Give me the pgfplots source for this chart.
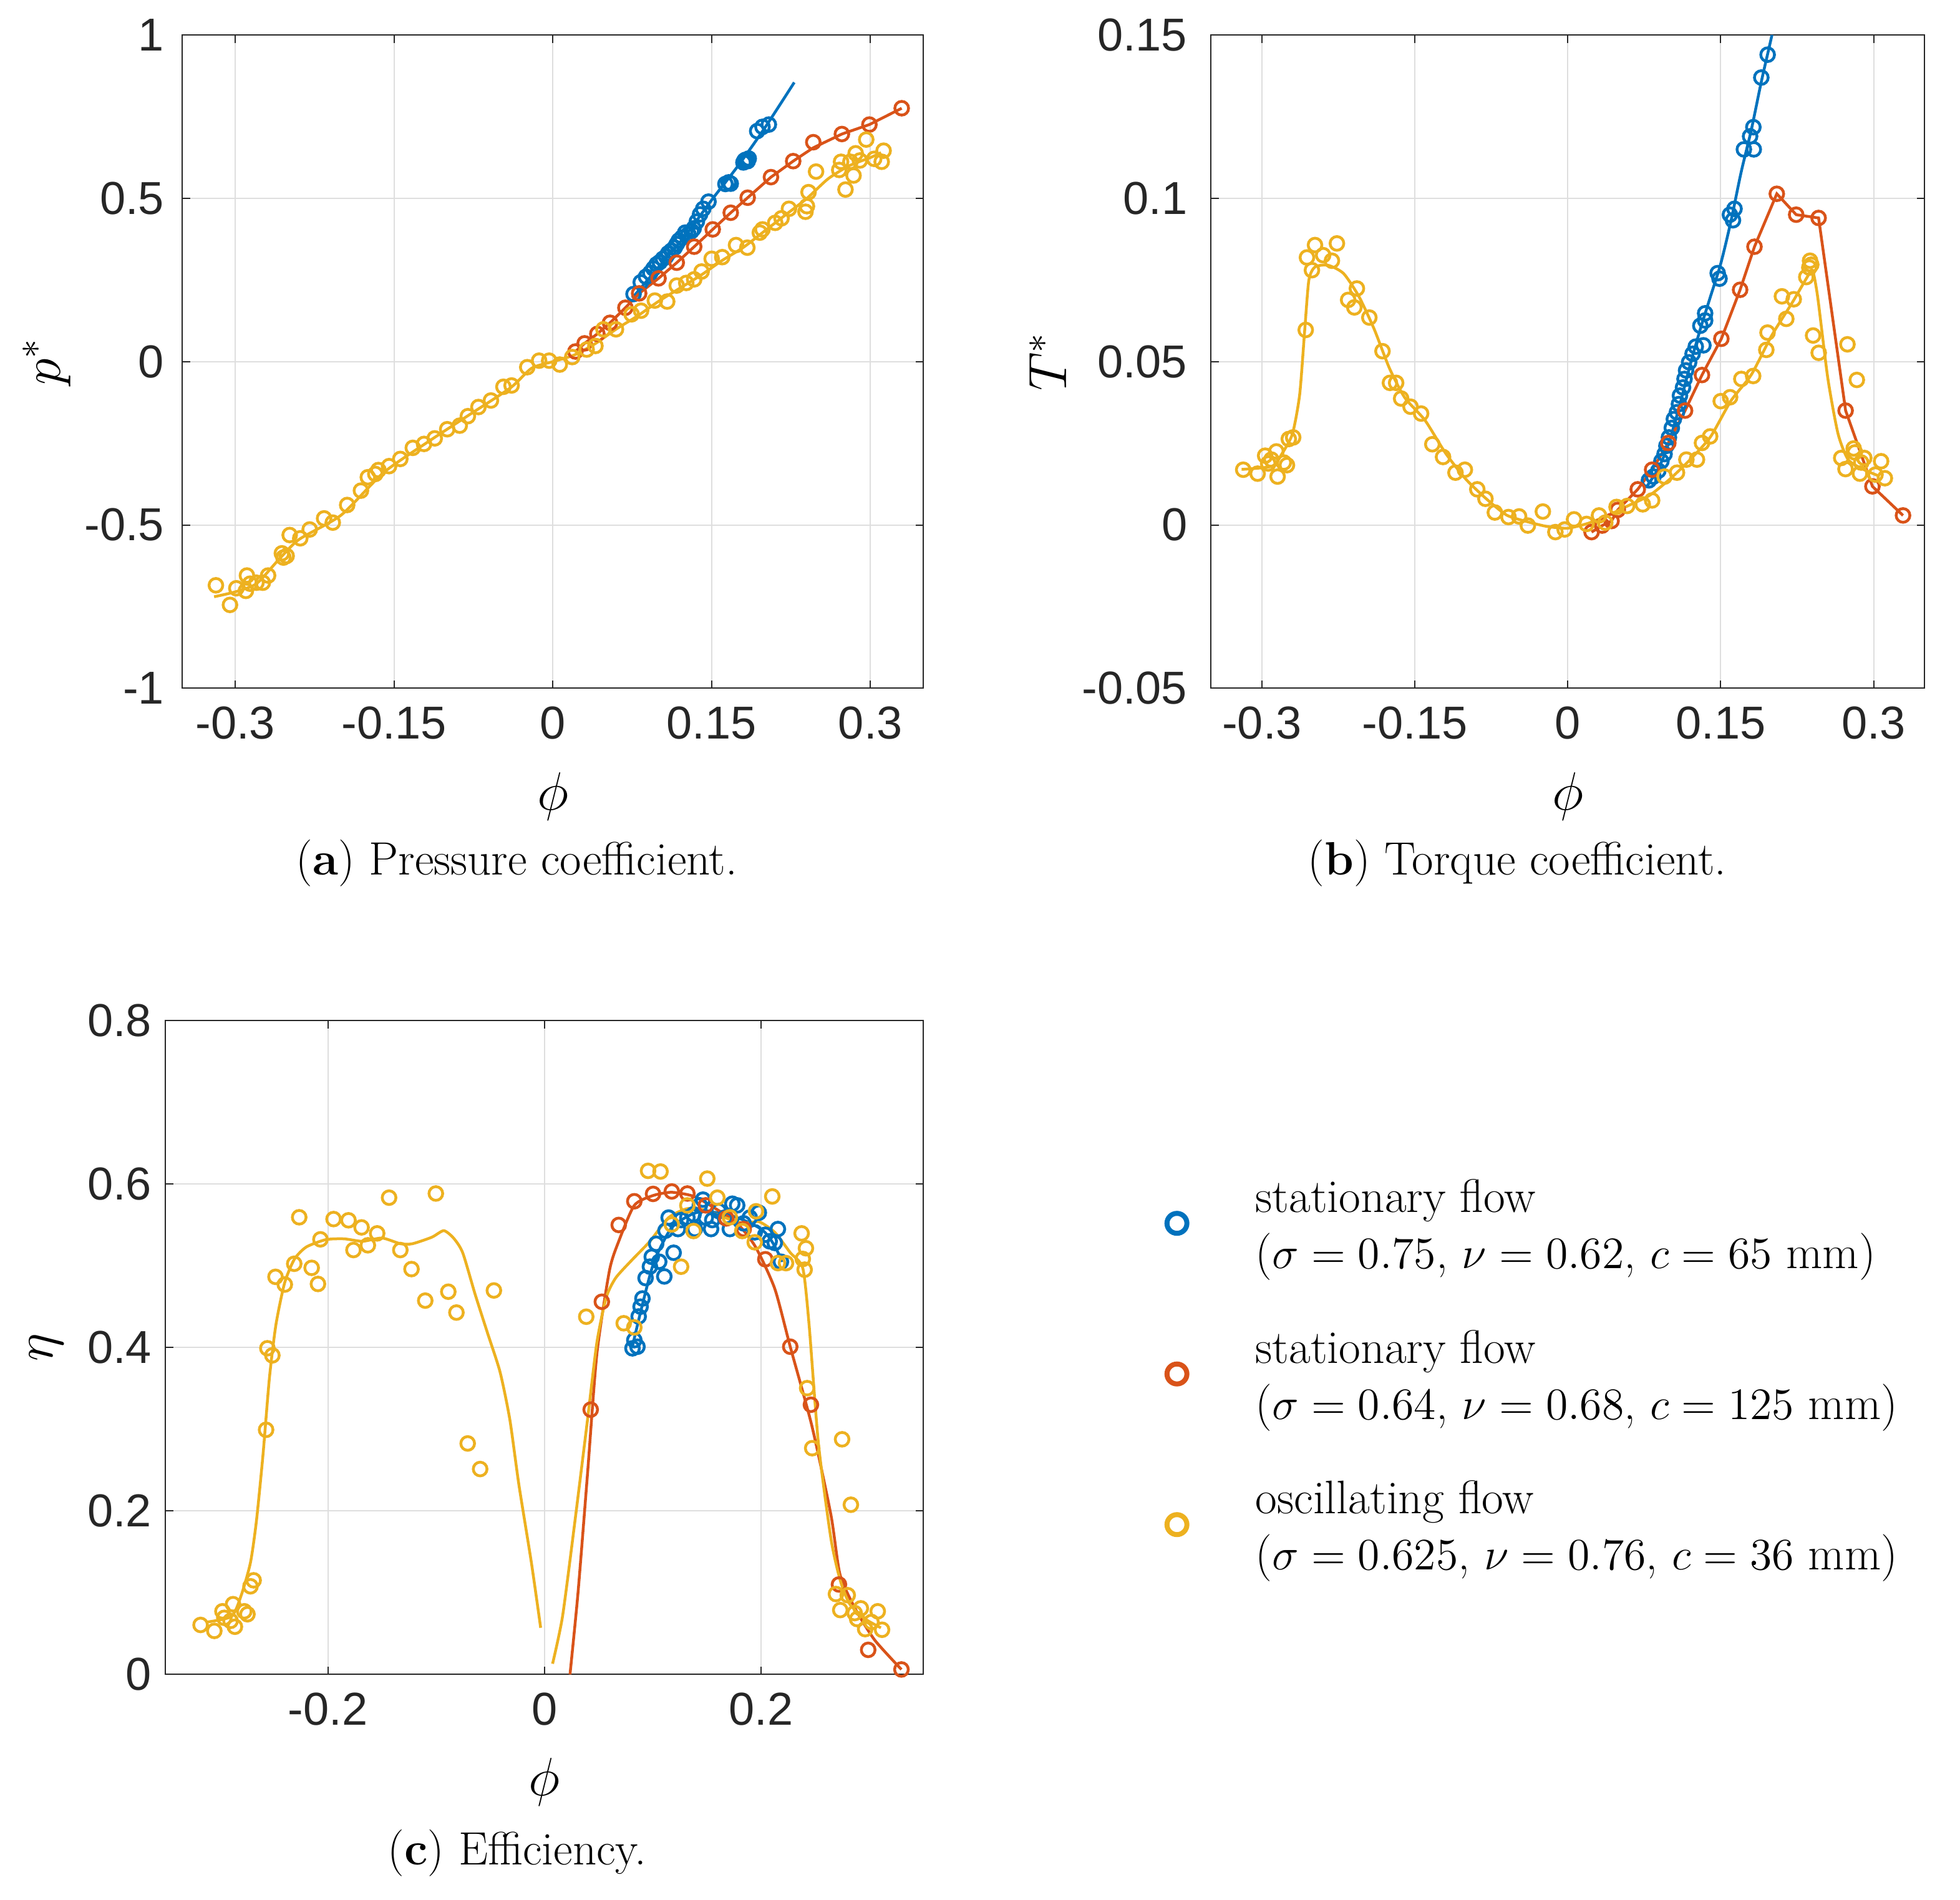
\documentclass[border=0pt]{standalone}
\usepackage{fontspec}
\usepackage{pgfplots}
\pgfplotsset{compat=1.18}
\newfontfamily\ticksf{Liberation Sans}
\definecolor{mblue}{rgb}{0,0.447,0.741}
\definecolor{mred}{rgb}{0.85,0.325,0.098}
\definecolor{myel}{rgb}{0.929,0.694,0.125}
\definecolor{mgray}{rgb}{0.15,0.15,0.15}
\definecolor{mgrid}{rgb}{0.87,0.87,0.87}
\pgfplotsset{
  mpanel/.style={
    scale only axis, anchor=south west,
    axis line style={mgray, line width=0.4pt},
    every tick/.style={mgray, line width=0.4pt},
    major tick length=2.5pt,
    tick align=inside,
    grid=major, major grid style={mgrid, line width=0.4pt},
    ticklabel style={font=\ticksf\fontsize{14.8}{17}\selectfont, text=mgray},
    xticklabel style={yshift=-2.3pt},
    label style={font=\fontsize{17}{20}\selectfont},
    xmin=-0.35, xmax=0.35,
  },
  mk/.style={only marks, mark=o, mark size=2.2pt, line width=0.9pt},
  ln/.style={no marks, line width=0.9pt, forget plot},
}
\begin{document}
\begin{tikzpicture}
\path[use as bounding box] (0,0) rectangle (628.4pt,609.2pt);

% ---------------- (a) pressure coefficient
\begin{axis}[mpanel, name=pa, at={(58.46pt,388.54pt)}, width=237.6pt, height=209.4pt,
  ymin=-1, ymax=1,
  xtick={-0.3,-0.15,0,0.15,0.3}, xticklabels={-0.3,-0.15,0,0.15,0.3},
  ytick={-1,-0.5,0,0.5,1}, yticklabels={-1,-0.5,0,0.5,1},
  yticklabel style={xshift=-2.3pt},
  xlabel={$\phi$}, ylabel={$p^{*}$},
  xlabel style={at={(axis description cs:0.5,-0.166)}, anchor=center},
  ylabel style={at={(axis description cs:-0.183,0.5)}, anchor=center}]
\addplot[mk, color=mblue] coordinates {
(0.0762,0.207) (0.083,0.243) (0.088,0.26) (0.092,0.272) (0.095,0.285) (0.098,0.298)
(0.101,0.305) (0.104,0.315) (0.107,0.322) (0.109,0.332) (0.112,0.34) (0.115,0.349)
(0.117,0.36) (0.119,0.371) (0.122,0.38) (0.125,0.395) (0.128,0.39) (0.131,0.40)
(0.133,0.408) (0.136,0.429) (0.139,0.451) (0.142,0.468) (0.147,0.49) (0.163,0.544)
(0.166,0.549) (0.168,0.545) (0.180,0.610) (0.181,0.616) (0.182,0.618) (0.184,0.614)
(0.185,0.622) (0.193,0.706) (0.198,0.719) (0.204,0.726)};
\addplot[ln, color=mblue, smooth] coordinates {
(0.075,0.195) (0.1,0.29) (0.125,0.385) (0.15,0.495) (0.175,0.6) (0.2,0.715) (0.228,0.855)};
\addplot[mk, color=mred] coordinates {
(0.0213,0.031) (0.030,0.056) (0.042,0.085) (0.054,0.119) (0.0685,0.165) (0.0815,0.209)
(0.0998,0.255) (0.117,0.303) (0.1335,0.352) (0.151,0.405) (0.168,0.456) (0.184,0.502)
(0.206,0.565) (0.227,0.614) (0.246,0.672) (0.273,0.697) (0.299,0.726) (0.3295,0.776)};
\addplot[ln, color=mred] coordinates {
(0.0213,0.031) (0.030,0.056) (0.042,0.085) (0.054,0.119) (0.0685,0.165) (0.0815,0.209)
(0.0998,0.255) (0.117,0.303) (0.1335,0.352) (0.151,0.405) (0.168,0.456) (0.184,0.502)
(0.206,0.565) (0.227,0.614) (0.246,0.655) (0.273,0.697) (0.299,0.726) (0.3295,0.776)};
\addplot[mk, color=myel] coordinates {
(-0.3183,-0.685) (-0.305,-0.745) (-0.299,-0.694) (-0.290,-0.702) (-0.289,-0.655)
(-0.286,-0.680) (-0.280,-0.677) (-0.274,-0.677) (-0.269,-0.655) (-0.256,-0.587)
(-0.2545,-0.600) (-0.2515,-0.595) (-0.2486,-0.531) (-0.2386,-0.541) (-0.2297,-0.514)
(-0.2161,-0.480) (-0.2079,-0.493) (-0.1943,-0.439) (-0.1813,-0.395) (-0.1748,-0.354)
(-0.1677,-0.344) (-0.1648,-0.332) (-0.1547,-0.320) (-0.1441,-0.298) (-0.1323,-0.264)
(-0.1217,-0.252) (-0.1116,-0.235) (-0.0998,-0.207) (-0.0880,-0.196) (-0.0803,-0.167)
(-0.0703,-0.139) (-0.0585,-0.119) (-0.0467,-0.077) (-0.0390,-0.073) (-0.0242,-0.017)
(-0.0130,0.003) (-0.0035,0.003) (0.0065,-0.009) (0.0183,0.014) (0.0319,0.037)
(0.0402,0.048) (0.0478,0.099) (0.0596,0.099) (0.0744,0.145) (0.0833,0.156)
(0.0963,0.187) (0.108,0.184) (0.117,0.233) (0.126,0.241) (0.1335,0.252) (0.1405,0.276)
(0.150,0.315) (0.160,0.320) (0.173,0.357) (0.1837,0.349) (0.1955,0.395) (0.198,0.405)
(0.210,0.425) (0.216,0.439) (0.223,0.468) (0.2386,0.459) (0.2415,0.519) (0.240,0.476)
(0.2486,0.582) (0.2705,0.587) (0.2722,0.612) (0.2764,0.527) (0.281,0.612) (0.284,0.570)
(0.286,0.638) (0.290,0.616) (0.296,0.680) (0.3035,0.621) (0.3106,0.612) (0.3124,0.646)};
\addplot[ln, color=myel, smooth, tension=0.4] coordinates {
(-0.32,-0.72) (-0.3,-0.705) (-0.28,-0.68) (-0.26,-0.61) (-0.24,-0.545) (-0.2,-0.47)
(-0.16,-0.34) (-0.12,-0.25) (-0.08,-0.165) (-0.04,-0.08) (-0.02,-0.02) (0,0) (0.02,0.02)
(0.04,0.055) (0.06,0.1) (0.08,0.14) (0.1,0.185) (0.12,0.225) (0.14,0.265) (0.16,0.31)
(0.18,0.35) (0.2,0.4) (0.22,0.45) (0.24,0.5) (0.26,0.56) (0.28,0.6) (0.3,0.625) (0.31,0.64)};
\end{axis}

% ---------------- (b) torque coefficient
\begin{axis}[mpanel, name=pb, at={(388.26pt,388.54pt)}, width=228.8pt, height=209.4pt,
  ymin=-0.05, ymax=0.15,
  xtick={-0.3,-0.15,0,0.15,0.3}, xticklabels={-0.3,-0.15,0,0.15,0.3},
  ytick={-0.05,0,0.05,0.1,0.15}, yticklabels={-0.05,0,0.05,0.1,0.15},
  yticklabel style={xshift=-4.1pt},
  xlabel={$\phi$}, ylabel={$T^{*}$},
  xlabel style={at={(axis description cs:0.5,-0.166)}, anchor=center},
  ylabel style={at={(axis description cs:-0.2285,0.5)}, anchor=center}]
\addplot[mk, color=mblue] coordinates {
(0.0796,0.01365) (0.0839,0.0148) (0.0888,0.0166) (0.0918,0.0195) (0.0949,0.0217)
(0.0967,0.0242) (0.0992,0.0268) (0.102,0.0297) (0.104,0.0324) (0.107,0.0345)
(0.109,0.037) (0.110,0.0396) (0.113,0.0421) (0.1145,0.0447) (0.116,0.0473)
(0.119,0.0498) (0.1224,0.0524) (0.1255,0.0546) (0.133,0.055) (0.13,0.061)
(0.1347,0.0626) (0.1347,0.0648) (0.147,0.0771) (0.1488,0.0754) (0.159,0.095)
(0.162,0.0933) (0.1635,0.0968) (0.1727,0.115) (0.1788,0.119) (0.182,0.1218)
(0.1824,0.115) (0.1898,0.137) (0.196,0.144)};
\addplot[ln, color=mblue, smooth] coordinates {
(0.078,0.012) (0.09,0.018) (0.1,0.026) (0.11,0.037) (0.12,0.049) (0.13,0.06) (0.14,0.07)
(0.15,0.08) (0.16,0.093) (0.17,0.108) (0.18,0.121) (0.19,0.136) (0.2002,0.15) (0.205,0.158)};
\addplot[mk, color=mred] coordinates {
(0.0233,-0.0022) (0.0337,-0.0002) (0.0429,0.0012) (0.049,0.0046) (0.0686,0.0109)
(0.0827,0.0169) (0.0986,0.0251) (0.115,0.035) (0.1316,0.0459) (0.1506,0.057)
(0.169,0.072) (0.1831,0.0852) (0.205,0.1014) (0.224,0.095) (0.246,0.094)
(0.2725,0.035) (0.2988,0.0118) (0.3288,0.0029)};
\addplot[ln, color=mred] coordinates {
(0.0233,-0.0022) (0.0337,-0.0002) (0.0429,0.0012) (0.049,0.0046) (0.0686,0.0109)
(0.0827,0.0169) (0.0986,0.0251) (0.115,0.035) (0.1316,0.0459) (0.1506,0.057)
(0.169,0.072) (0.1831,0.0852) (0.205,0.1014) (0.224,0.095) (0.246,0.094)
(0.2725,0.035) (0.2988,0.0118) (0.3288,0.0029)};
\addplot[mk, color=myel] coordinates {
(-0.3184,0.0169) (-0.3043,0.0157) (-0.2969,0.0212) (-0.2939,0.0188) (-0.2908,0.0200)
(-0.2859,0.0225) (-0.2847,0.0148) (-0.2786,0.0191) (-0.2755,0.0183) (-0.2737,0.0263)
(-0.2694,0.0268) (-0.2571,0.0597) (-0.2559,0.0819) (-0.2510,0.0780) (-0.2480,0.0857)
(-0.2400,0.0826) (-0.2314,0.0809) (-0.2265,0.0862) (-0.2155,0.0689) (-0.2094,0.0666)
(-0.2069,0.0724) (-0.1947,0.0635) (-0.1818,0.0532) (-0.1745,0.0435) (-0.1684,0.0435)
(-0.1635,0.0387) (-0.1543,0.0362) (-0.1439,0.0341) (-0.1329,0.0247) (-0.1224,0.0208)
(-0.1102,0.0160) (-0.1010,0.0169) (-0.0888,0.0109) (-0.0808,0.0080) (-0.0716,0.0038)
(-0.0582,0.0024) (-0.0478,0.0026) (-0.0392,-0.0002) (-0.0245,0.0041) (-0.0122,-0.0022)
(-0.0031,-0.0014) (0.0061,0.0017) (0.0184,0.0003) (0.0306,0.0029) (0.0367,0.0007)
(0.0478,0.0055) (0.0582,0.0058) (0.0735,0.0063) (0.0827,0.0075) (0.0949,0.0148)
(0.1071,0.0160) (0.1163,0.0200) (0.1267,0.0200) (0.1316,0.0251) (0.1396,0.0271)
(0.1500,0.0379) (0.1592,0.0391) (0.1702,0.0447) (0.1818,0.0456) (0.1947,0.0536)
(0.1959,0.0589) (0.2100,0.0700) (0.2143,0.0631) (0.2216,0.0691) (0.2339,0.0759)
(0.2369,0.0788) (0.2376,0.0809) (0.2388,0.0797) (0.2406,0.0580) (0.2461,0.0527)
(0.2682,0.0205) (0.2724,0.0171) (0.2743,0.0553) (0.2804,0.0234) (0.2816,0.0222)
(0.2835,0.0444) (0.2865,0.0157) (0.2878,0.0191) (0.2908,0.0205) (0.3018,0.0154)
(0.3073,0.0195) (0.3110,0.0143)};
\addplot[ln, color=myel, smooth, tension=0.4] coordinates {
(-0.32,0.017) (-0.29,0.018) (-0.28,0.022) (-0.27,0.028) (-0.263,0.04) (-0.258,0.06)
(-0.254,0.075) (-0.248,0.079) (-0.235,0.0795) (-0.22,0.077) (-0.205,0.07) (-0.19,0.06)
(-0.175,0.048) (-0.16,0.039) (-0.14,0.032) (-0.12,0.022) (-0.1,0.014) (-0.08,0.008)
(-0.06,0.003) (-0.04,0.001) (-0.02,-0.0005) (0,-0.001) (0.02,0.0005) (0.04,0.003)
(0.06,0.006) (0.08,0.009) (0.1,0.014) (0.12,0.02) (0.14,0.027) (0.16,0.038) (0.18,0.046)
(0.2,0.058) (0.22,0.068) (0.235,0.076) (0.24,0.078) (0.245,0.07) (0.255,0.045)
(0.265,0.028) (0.275,0.02) (0.29,0.017) (0.305,0.015)};
\end{axis}

% ---------------- (c) efficiency
\begin{axis}[mpanel, name=pc, at={(53.06pt,72.34pt)}, width=243.0pt, height=209.6pt,
  ymin=0, ymax=0.8,
  xtick={-0.2,0,0.2}, xticklabels={-0.2,0,0.2},
  ytick={0,0.2,0.4,0.6,0.8}, yticklabels={0,0.2,0.4,0.6,0.8},
  yticklabel style={xshift=-0.9pt},
  xlabel={$\phi$}, ylabel={$\eta$},
  xlabel style={at={(axis description cs:0.5,-0.165)}, anchor=center},
  ylabel style={at={(axis description cs:-0.157,0.5)}, anchor=center},
  legend style={draw=none, fill=none, at={(axis description cs:1.3205,0.7675)}, anchor=north west,
    inner sep=0pt, row sep=16.2pt,
    nodes={inner sep=0pt, font=\fontsize{15.1}{18}\selectfont},
    /tikz/every odd column/.append style={column sep=22pt}},
  legend cell align=left,
  legend image post style={mark size=3.2pt, line width=1.6pt, yshift=0pt}]
\addplot[mk, color=mblue] coordinates {
(0.0813,0.399) (0.083,0.409) (0.0859,0.401) (0.087,0.438) (0.0888,0.450) (0.0905,0.460)
(0.0934,0.485) (0.0974,0.499) (0.0991,0.511) (0.1032,0.527) (0.106,0.505) (0.1107,0.487)
(0.1118,0.543) (0.1147,0.559) (0.1193,0.516) (0.1233,0.545) (0.1262,0.556) (0.132,0.559)
(0.1377,0.563) (0.1389,0.545) (0.1435,0.574) (0.1464,0.581) (0.149,0.559) (0.1539,0.545)
(0.155,0.556) (0.161,0.567) (0.1666,0.559) (0.1712,0.545) (0.1735,0.576) (0.178,0.574)
(0.1839,0.552) (0.1896,0.559) (0.1942,0.541) (0.198,0.565) (0.2040,0.538) (0.208,0.530)
(0.2127,0.528) (0.2156,0.545) (0.2184,0.505)};
\addlegendentry{\begin{tabular}[b]{@{}l@{}}stationary flow\\($\sigma = 0.75$, $\nu = 0.62$, $c = 65$ mm)\end{tabular}}
\addplot[ln, color=mblue, smooth] coordinates {
(0.081,0.40) (0.09,0.45) (0.1,0.5) (0.11,0.53) (0.12,0.55) (0.14,0.565) (0.16,0.565)
(0.18,0.558) (0.2,0.545) (0.21,0.53) (0.22,0.505)};
\addplot[mk, color=mred] coordinates {
(0.0427,0.324) (0.053,0.456) (0.0686,0.550) (0.083,0.579) (0.1003,0.588) (0.1176,0.591)
(0.132,0.5885) (0.149,0.574) (0.168,0.558) (0.184,0.545) (0.204,0.508) (0.227,0.401)
(0.2461,0.330) (0.272,0.110) (0.299,0.030) (0.3297,0.006)};
\addlegendentry{\begin{tabular}[b]{@{}l@{}}stationary flow\\($\sigma = 0.64$, $\nu = 0.68$, $c = 125$ mm)\end{tabular}}
\addplot[ln, color=mred, smooth, tension=0.4] coordinates {
(0.0236,0) (0.031,0.100) (0.0398,0.246) (0.0484,0.392) (0.06,0.494) (0.0686,0.530)
(0.083,0.574) (0.1003,0.586) (0.1176,0.590) (0.138,0.585) (0.158,0.570) (0.178,0.552)
(0.195,0.523) (0.2127,0.472) (0.227,0.401) (0.247,0.304) (0.2646,0.195) (0.273,0.122)
(0.2876,0.079) (0.305,0.042) (0.3297,0.006)};
\addplot[mk, color=myel] coordinates {
(-0.3176,0.0605) (-0.3049,0.0532) (-0.2974,0.0772) (-0.2957,0.0692) (-0.2899,0.0655)
(-0.2876,0.0859) (-0.2859,0.0583) (-0.2772,0.0772) (-0.2743,0.0736) (-0.2715,0.1078)
(-0.2686,0.1151) (-0.2571,0.2993) (-0.2559,0.3991) (-0.2513,0.3904) (-0.2484,0.4865)
(-0.2398,0.4771) (-0.2311,0.5025) (-0.2265,0.5594) (-0.2150,0.4975) (-0.2092,0.4778)
(-0.2069,0.5324) (-0.1948,0.5572) (-0.1810,0.5557) (-0.1764,0.5193) (-0.1689,0.5470)
(-0.1631,0.5251) (-0.1545,0.5397) (-0.1435,0.5834) (-0.1331,0.5193) (-0.1228,0.4960)
(-0.1101,0.4574) (-0.1003,0.5885) (-0.0888,0.4683) (-0.0813,0.4428) (-0.0709,0.2826)
(-0.0594,0.2513) (-0.0467,0.4698)
(0.0386,0.4377) (0.0732,0.4297) (0.0830,0.4246) (0.0957,0.6162) (0.1072,0.6154)
(0.1176,0.5506) (0.1262,0.4989) (0.1320,0.5739) (0.1377,0.5426) (0.1504,0.6067)
(0.1597,0.5834) (0.1712,0.5594) (0.1827,0.5426) (0.1942,0.5288) (0.1954,0.5667)
(0.2104,0.5849) (0.2156,0.5033) (0.2231,0.5033) (0.2375,0.5397) (0.2386,0.5084)
(0.2403,0.4953) (0.2415,0.5215) (0.2426,0.3503) (0.2473,0.2768) (0.2692,0.0983)
(0.2732,0.0787) (0.2749,0.2877) (0.2801,0.0969) (0.2830,0.2076) (0.2865,0.0750)
(0.2888,0.0677) (0.2922,0.0808) (0.2962,0.0554) (0.3020,0.0641) (0.3078,0.0772)
(0.3118,0.0546)};
\addlegendentry{\begin{tabular}[b]{@{}l@{}}oscillating flow\\($\sigma = 0.625$, $\nu = 0.76$, $c = 36$ mm)\end{tabular}}
\addplot[ln, color=myel, smooth, tension=0.4] coordinates {
(-0.312,0.064) (-0.289,0.071) (-0.280,0.097) (-0.2715,0.137) (-0.266,0.188) (-0.26,0.268)
(-0.254,0.363) (-0.248,0.428) (-0.24,0.479) (-0.231,0.508) (-0.22,0.523) (-0.202,0.532)
(-0.185,0.533) (-0.168,0.530) (-0.150,0.534) (-0.133,0.527) (-0.122,0.527) (-0.104,0.535)
(-0.093,0.543) (-0.084,0.534) (-0.0755,0.516) (-0.064,0.465) (-0.0524,0.417) (-0.041,0.370)
(-0.032,0.312) (-0.0236,0.232) (-0.0121,0.137) (-0.0035,0.057)};
\addplot[ln, color=myel, smooth, tension=0.4] coordinates {
(0.0075,0.013) (0.0167,0.071) (0.0282,0.188) (0.0398,0.312) (0.0484,0.406) (0.057,0.461)
(0.0657,0.485) (0.080,0.506) (0.0974,0.530) (0.1147,0.559) (0.132,0.570) (0.149,0.568)
(0.1666,0.559) (0.1839,0.552) (0.198,0.554) (0.2127,0.541) (0.2271,0.516) (0.2386,0.497)
(0.2444,0.428) (0.253,0.283) (0.2646,0.166) (0.2732,0.115) (0.282,0.086) (0.296,0.068)
(0.3107,0.057)};
\end{axis}

\node[font=\fontsize{15}{18}\selectfont] at (165.7pt,332.4pt) {(\textbf{a}) Pressure coefficient.};
\node[font=\fontsize{15}{18}\selectfont] at (486.4pt,332.4pt) {(\textbf{b}) Torque coefficient.};
\node[font=\fontsize{15}{18}\selectfont] at (165.8pt,15.0pt) {(\textbf{c}) Efficiency.};
\end{tikzpicture}
\end{document}
